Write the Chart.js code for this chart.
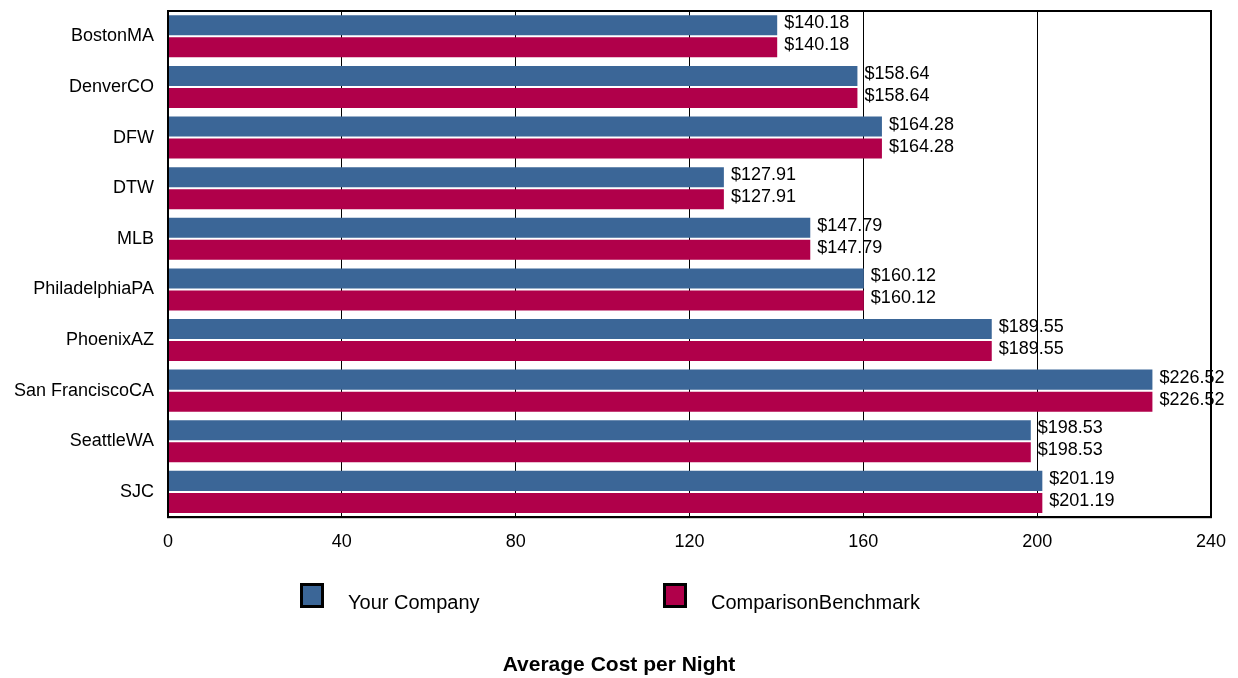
<!DOCTYPE html>
<html>
<head>
<meta charset="utf-8">
<script src="https://cdn.jsdelivr.net/npm/chart.js@4/dist/chart.umd.min.js"></script>
<style>
  html, body { margin: 0; padding: 0; background: #fff; }
  #wrap { width: 1238px; height: 678px; position: relative; }
</style>
</head>
<body>
<div id="wrap"><canvas id="chart"></canvas></div>
<script>
const cities = ["BostonMA", "DenverCO", "DFW", "DTW", "MLB", "PhiladelphiaPA",
                "PhoenixAZ", "San FranciscoCA", "SeattleWA", "SJC"];
const yourCompany = [140.18, 158.64, 164.28, 127.91, 147.79, 160.12, 189.55, 226.52, 198.53, 201.19];
const benchmark   = [140.18, 158.64, 164.28, 127.91, 147.79, 160.12, 189.55, 226.52, 198.53, 201.19];
const xTicks = [0, 40, 80, 120, 160, 200, 240];

const FONT = "'Liberation Sans', Arial, sans-serif";
const BLUE = "#3b6697";
const RED = "#b0004a";

// value labels at bar ends
const valueLabels = {
  id: "valueLabels",
  afterDatasetsDraw(c) {
    const ctx = c.ctx;
    ctx.save();
    ctx.font = "18px " + FONT;
    ctx.fillStyle = "#000";
    ctx.textAlign = "left";
    ctx.textBaseline = "middle";
    c.data.datasets.forEach((ds, i) => {
      c.getDatasetMeta(i).data.forEach((bar, j) => {
        ctx.fillText("$" + ds.data[j].toFixed(2), bar.x + 7, bar.y - 2);
      });
    });
    ctx.restore();
  }
};

// frame + legend
const frameAndLegend = {
  id: "frameAndLegend",
  afterDraw(c) {
    const ctx = c.ctx, a = c.chartArea;
    ctx.save();
    ctx.strokeStyle = "#000";
    ctx.lineWidth = 2;
    ctx.strokeRect(a.left, a.top, a.right - a.left, a.bottom - a.top);

    const slots = [300, 663];
    ctx.font = "20px " + FONT;
    ctx.textBaseline = "middle";
    ctx.textAlign = "left";
    c.data.datasets.forEach((ds, i) => {
      const x = slots[i];
      ctx.fillStyle = ds.backgroundColor;
      ctx.fillRect(x + 1.5, 584.5, 21, 22);
      ctx.lineWidth = 3;
      ctx.strokeRect(x + 1.5, 584.5, 21, 22);
      ctx.fillStyle = "#000";
      ctx.fillText(ds.label, x + 48, 603);
    });
    ctx.restore();
  }
};

new Chart(document.getElementById("chart"), {
  type: "bar",
  data: {
    labels: cities,
    datasets: [
      { label: "Your Company", data: yourCompany, backgroundColor: BLUE },
      { label: "ComparisonBenchmark", data: benchmark, backgroundColor: RED }
    ]
  },
  options: {
    indexAxis: "y",
    responsive: true,
    maintainAspectRatio: false,
    animation: false,
    categoryPercentage: 0.87,
    barPercentage: 0.91,
    layout: { padding: { top: 11, right: 0, left: 0, bottom: 0 } },
    plugins: {
      legend: { display: false },
      tooltip: { enabled: false },
      title: {
        display: true,
        position: "bottom",
        text: "Average Cost per Night",
        color: "#000",
        font: { family: FONT, size: 21, weight: "bold" },
        padding: { top: 86, bottom: 0 }
      }
    },
    scales: {
      x: {
        min: 0,
        max: 240,
        afterBuildTicks: s => { s.ticks = xTicks.map(v => ({ value: v })); },
        afterFit: s => { s.paddingLeft = 0; s.paddingRight = 27; },
        grid: { color: "#000", lineWidth: 1, drawTicks: false },
        border: { color: "#000", width: 2 },
        ticks: { color: "#000", padding: 14, font: { family: FONT, size: 18 } }
      },
      y: {
        afterFit: s => { s.width = 168; s.paddingTop = 0; s.paddingBottom = 0; },
        grid: { display: false, drawTicks: false },
        border: { color: "#000", width: 2 },
        ticks: { color: "#000", padding: 14, font: { family: FONT, size: 18 } }
      }
    }
  },
  plugins: [valueLabels, frameAndLegend]
});
</script>
</body>
</html>
